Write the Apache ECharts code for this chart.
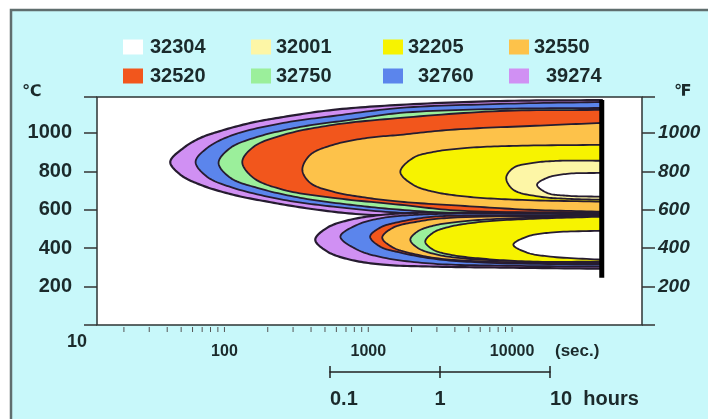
<!DOCTYPE html>
<html>
<head>
<meta charset="utf-8">
<script src="https://cdn.jsdelivr.net/npm/echarts@6/dist/echarts.min.js"></script>
<style>html,body{margin:0;padding:0;background:#fff}#c{width:708px;height:419px}</style>
</head>
<body>
<div id="c"></div>
<script>
// ---------- data (time in seconds, temperature in °C) ----------
const grades = ['32304', '32001', '32205', '32550', '32520', '32750', '32760', '39274'];
const legendRow1 = ['32304', '32001', '32205', '32550'];
const legendRow2 = ['32520', '32750', '32760', '39274'];
const tempTicks = [200, 400, 600, 800, 1000];
const timeLabels = [100, 1000, 10000];
const minorTicks = [20, 30, 40, 50, 60, 70, 80, 90, 100, 200, 300, 400, 500, 600, 700, 800, 900, 1000, 2000, 3000, 4000, 5000, 6000, 7000, 8000, 9000, 10000];
const hourTicks = [0.1, 1, 10];
const hourLabels = ['0.1', '1', '10  hours'];
const endTime = 42000;
const endLine = [[42000, 246], [42000, 1171]];

// upper (high temperature) C-curves
const u39274 = [[42000, 1171], [8250, 1166], [1670, 1146], [570, 1120], [257, 1083], [152, 1052], [89, 1005], [68, 974], [52, 922], [42, 849], [49.5, 782], [68, 730], [115, 678], [199, 642], [442, 600], [984, 574], [3700, 569], [42000, 569]];
const u32760 = [[42000, 1161], [8250, 1151], [1670, 1130], [570, 1088], [257, 1052], [115, 990], [76, 922], [63, 849], [76, 771], [115, 714], [257, 652], [570, 616], [1670, 584], [5100, 574], [42000, 574]];
const u32750 = [[42000, 1130], [8250, 1125], [1670, 1104], [750, 1068], [337, 1031], [169, 979], [110, 922], [91, 844], [110, 766], [169, 714], [337, 662], [750, 626], [1670, 600], [5100, 579], [42000, 579]];
const u32520 = [[42000, 1120], [8250, 1114], [1670, 1078], [570, 1042], [257, 990], [159, 927], [133, 849], [159, 766], [257, 704], [570, 662], [1670, 626], [4350, 595], [42000, 584]];
const u32550 = [[42000, 1052], [13300, 1036], [3700, 1016], [1670, 990], [984, 974], [570, 938], [395, 886], [348, 808], [395, 740], [570, 694], [984, 662], [1670, 642], [4350, 621], [13300, 600], [42000, 590]];
const u32205 = [[42000, 938], [10800, 933], [4870, 922], [2830, 901], [2050, 870], [1670, 797], [2050, 730], [2830, 694], [4870, 668], [10800, 652], [42000, 642]];
const u32001 = [[42000, 855], [21500, 855], [14000, 844], [10200, 818], [9100, 766], [10200, 704], [15600, 668], [24100, 657], [42000, 652]];
const u32304 = [[42000, 792], [24100, 787], [17500, 766], [14900, 730], [17500, 688], [24100, 673], [42000, 668]];

// lower (low temperature) C-curves
const l39274 = [[42000, 584], [3700, 584], [2190, 584], [1270, 574], [750, 548], [520, 507], [428, 444], [520, 382], [750, 340], [1270, 314], [2830, 304], [8250, 299], [42000, 293]];
const l32760 = [[42000, 579], [3700, 579], [2190, 574], [1270, 558], [840, 522], [640, 460], [840, 392], [1270, 351], [2830, 319], [8250, 309], [42000, 304]];
const l32520 = [[42000, 574], [4870, 569], [2830, 564], [1670, 538], [1210, 507], [1030, 460], [1210, 408], [1670, 377], [2830, 345], [6290, 325], [42000, 314]];
const l32550 = [[42000, 569], [3700, 558], [2190, 538], [1490, 507], [1250, 455], [1490, 403], [2190, 366], [3700, 340], [42000, 319]];
const l32750 = [[42000, 564], [8250, 553], [4350, 538], [2830, 517], [2190, 486], [1960, 444], [2190, 403], [2830, 371], [4870, 345], [42000, 325]];
const l32205 = [[42000, 564], [14000, 553], [6290, 538], [3700, 512], [2830, 481], [2490, 434], [2830, 392], [3700, 366], [6290, 345], [14000, 330], [42000, 330]];
const l32304 = [[42000, 491], [18400, 481], [12700, 460], [10200, 418], [12700, 377], [18400, 356], [42000, 340]];

// drawing order (outermost first)
const curves = [
  ['39274', u39274], ['32760', u32760], ['32750', u32750], ['32520', u32520],
  ['32550', u32550], ['32205', u32205], ['32001', u32001], ['32304', u32304],
  ['39274', l39274], ['32760', l32760], ['32520', l32520], ['32550', l32550],
  ['32750', l32750], ['32205', l32205], ['32304', l32304]
];

// ---------- styles ----------
const palette = {
  '32304': '#ffffff', '32001': '#fdf6a6', '32205': '#f7f300', '32550': '#fdc24a',
  '32520': '#f2561c', '32750': '#9bef9b', '32760': '#5b85ec', '39274': '#d090f3'
};
// legend item placement: [row1..., row2...] -> left position of swatch, extra text gap
const legendSlots = [
  { left: 123, top: 37, gap: 2 }, { left: 251, top: 37, gap: 0 }, { left: 383, top: 37, gap: 0 }, { left: 509, top: 37, gap: 0 },
  { left: 123, top: 66, gap: 2 }, { left: 251, top: 66, gap: 0 }, { left: 383, top: 66, gap: 10 }, { left: 509, top: 66, gap: 12 }
];
const FONT = "'Liberation Sans', Arial, sans-serif";
const TXT = '#1b2a2b';

function dist(a, b) { return Math.hypot(a[0] - b[0], a[1] - b[1]); }
function smooth(pts) {
  const n = pts.length;
  const P = i => {
    if (i < 0) return [2 * pts[0][0] - pts[1][0], 2 * pts[0][1] - pts[1][1]];
    if (i >= n) return [2 * pts[n - 1][0] - pts[n - 2][0], 2 * pts[n - 1][1] - pts[n - 2][1]];
    return pts[i];
  };
  const out = [pts[0]];
  for (let i = 0; i < n - 1; i++) {
    const p0 = P(i - 1), p1 = P(i), p2 = P(i + 1), p3 = P(i + 2);
    const d1 = Math.max(dist(p0, p1), 1e-6), d2 = Math.max(dist(p1, p2), 1e-6), d3 = Math.max(dist(p2, p3), 1e-6);
    const s1 = Math.sqrt(d1), s2 = Math.sqrt(d2), s3 = Math.sqrt(d3);
    const b1 = [0, 1].map(k => (d1 * p2[k] - d2 * p0[k] + (2 * d1 + 3 * s1 * s2 + d2) * p1[k]) / (3 * s1 * (s1 + s2)));
    const b2 = [0, 1].map(k => (d3 * p1[k] - d2 * p3[k] + (2 * d3 + 3 * s3 * s2 + d2) * p2[k]) / (3 * s3 * (s3 + s2)));
    const N = 14;
    for (let j = 1; j <= N; j++) {
      const t = j / N, u = 1 - t;
      out.push([0, 1].map(k => u * u * u * p1[k] + 3 * u * u * t * b1[k] + 3 * u * t * t * b2[k] + t * t * t * p2[k]));
    }
  }
  return out;
}

const series = curves.map(([grade, pts], rank) => ({
  type: 'custom',
  name: grade,
  coordinateSystem: 'cartesian2d',
  xAxisIndex: 0, yAxisIndex: 0,
  itemStyle: { color: palette[grade] },
  encode: { x: 0, y: 1 },
  data: pts,
  silent: true,
  renderItem: function (params, api) {
    if (params.dataIndexInside !== 0) return null;
    const px = [];
    for (let i = 0; i < params.dataInsideLength; i++) {
      px.push(api.coord([api.value(0, i), api.value(1, i)]));
    }
    return {
      type: 'polygon',
      z2: rank,
      shape: { points: smooth(px) },
      style: { fill: palette[grade], stroke: '#261c30', lineWidth: rank === 0 || rank === 8 ? 2.2 : 1.8 }
    };
  }
}));

series.push({
  type: 'line', name: 'end', data: endLine, symbol: 'none', silent: true, z: 5,
  lineStyle: { color: '#000', width: 5 }
});
series.push({
  type: 'custom', name: 'minor', data: minorTicks.map(v => [v, 0]), silent: true,
  encode: { x: 0, y: 1 },
  renderItem: function (params, api) {
    const p = api.coord([api.value(0), api.value(1)]);
    return { type: 'line', shape: { x1: p[0], y1: p[1] + 2, x2: p[0], y2: p[1] + 7 }, style: { stroke: '#555', lineWidth: 1 } };
  }
});

const legends = grades.map((g, i) => {
  const order = legendRow1.concat(legendRow2);
  const name = order[i];
  const slot = legendSlots[i];
  return {
    data: [name], left: slot.left, top: slot.top,
    icon: 'rect', itemWidth: 20, itemHeight: 15, padding: 0, selectedMode: false,
    textStyle: { fontFamily: FONT, fontSize: 20, fontWeight: 'bold', color: TXT, padding: [0, 0, 0, slot.gap] }
  };
});

const chart = echarts.init(document.getElementById('c'), null, { renderer: 'canvas' });
chart.setOption({
  backgroundColor: '#ffffff',
  animation: false,
  graphic: [
    { type: 'rect', z: -10, shape: { x: 11, y: 10, width: 720, height: 430 },
      style: { fill: '#c8f8fa', stroke: '#5f6e6e', lineWidth: 2.5 } },
    { type: 'text', left: 22, top: 84, style: { text: '℃', fontFamily: 'DejaVu Sans', fontSize: 16, fontWeight: 'bold', fill: TXT } },
    { type: 'text', left: 674, top: 84, style: { text: '℉', fontFamily: 'DejaVu Sans', fontSize: 16, fontWeight: 'bold', fill: TXT } },
    { type: 'text', left: 67, top: 333, style: { text: '10', fontFamily: FONT, fontSize: 18, fontWeight: 'bold', fill: TXT } },
    { type: 'text', left: 555, top: 343, style: { text: '(sec.)', fontFamily: FONT, fontSize: 17, fontWeight: 'bold', fill: TXT } }
  ],
  legend: legends,
  grid: [
    { left: 97, top: 97, width: 545, height: 228, show: true, backgroundColor: '#ffffff', borderColor: '#2d3535', borderWidth: 1.5 },
    { left: 330, top: 366, width: 220, height: 6, show: false }
  ],
  xAxis: [
    { type: 'log', gridIndex: 0, logBase: 10, min: 13, max: 80000,
      axisLine: { show: false }, axisTick: { show: false }, splitLine: { show: false },
      axisLabel: { showMinLabel: false, showMaxLabel: false, margin: 19, fontFamily: FONT, fontSize: 16, fontWeight: 'bold', color: TXT,
        formatter: v => { const m = timeLabels.find(t => Math.abs(t - v) / t < 0.01); return m ? String(m) : ''; } } },
    { type: 'log', gridIndex: 1, logBase: 10, min: 0.1, max: 10, position: 'bottom',
      axisLine: { show: true, lineStyle: { color: '#222', width: 1.5 } },
      axisTick: { show: true, inside: false, length: 6, lineStyle: { color: '#222', width: 1.5 } },
      splitLine: { show: false },
      axisLabel: { margin: 17, alignMinLabel: 'left', alignMaxLabel: 'left', fontFamily: FONT, fontSize: 20, fontWeight: 'bold', color: TXT,
        formatter: (v, i) => hourLabels[i] } },
    { type: 'log', gridIndex: 1, logBase: 10, min: 0.1, max: 10, position: 'bottom',
      axisLine: { show: false },
      axisTick: { show: true, inside: true, length: 6, lineStyle: { color: '#222', width: 1.5 } },
      splitLine: { show: false }, axisLabel: { show: false } }
  ],
  yAxis: [
    { type: 'value', gridIndex: 0, min: 0, max: 1187, interval: 200, position: 'left',
      axisLine: { show: false }, splitLine: { show: false },
      axisTick: { show: true, length: 13, lineStyle: { color: '#333', width: 1.5 } },
      axisLabel: { margin: 25, fontFamily: FONT, fontSize: 20, fontWeight: 'bold', color: TXT,
        formatter: v => tempTicks.includes(v) ? String(v) : '' } },
    { type: 'value', gridIndex: 0, min: 0, max: 1187, interval: 200, position: 'right',
      axisLine: { show: false }, splitLine: { show: false },
      axisTick: { show: true, length: 13, lineStyle: { color: '#333', width: 1.5 } },
      axisLabel: { margin: 16, fontFamily: FONT, fontSize: 19, fontWeight: 'bold', fontStyle: 'italic', color: TXT,
        formatter: v => tempTicks.includes(v) ? String(v) : '' } },
    { type: 'value', gridIndex: 1, show: false, min: 0, max: 1 }
  ],
  series: series
});
</script>
</body>
</html>
